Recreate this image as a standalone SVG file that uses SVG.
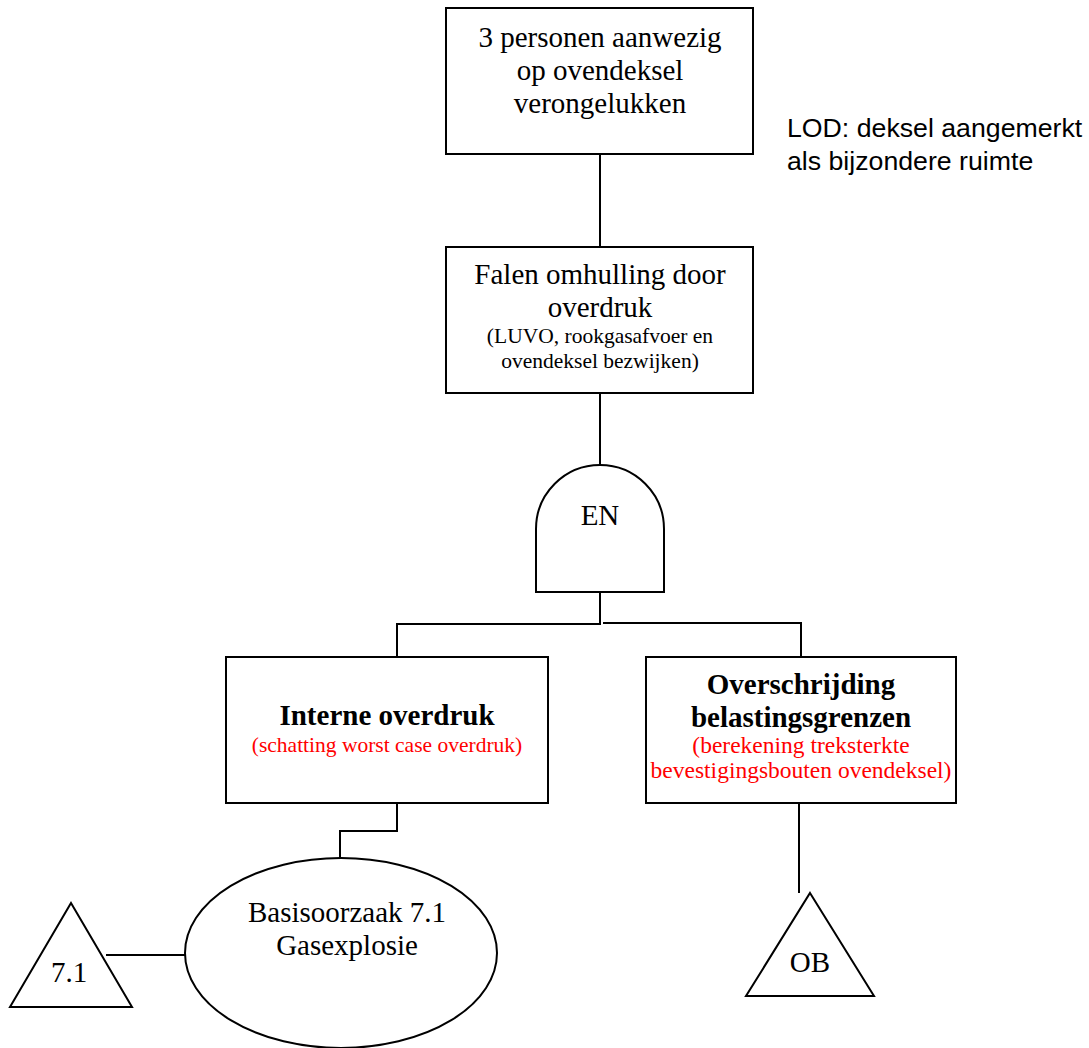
<svg xmlns="http://www.w3.org/2000/svg" width="1089" height="1048" viewBox="0 0 1089 1048">
  <style>
    .shape { fill: #ffffff; stroke: #000000; stroke-width: 2; }
    .wire { fill: none; stroke: #000000; stroke-width: 2; }
    .t { font-family: "Liberation Serif", "Times New Roman", serif; fill: #000000; text-anchor: middle; }
    .big { font-size: 29px; }
    .bold { font-size: 29px; font-weight: bold; }
    .small { font-size: 21.5px; }
    .mid { font-size: 23.5px; }
    .red { fill: #ff0000; }
    .note { font-family: "Liberation Sans", Arial, sans-serif; font-size: 26.7px; fill: #000000; }
  </style>
  <rect width="1089" height="1048" fill="#ffffff"/>

  <!-- connectors -->
  <g id="connectors">
    <path class="wire" d="M600,154 V247"/>
    <path class="wire" d="M600,393 V465"/>
    <path class="wire" d="M600,592 V624 H397 V657"/>
    <path class="wire" d="M603,623 H801 V657"/>
    <path class="wire" d="M397,803 V831 H340 V858"/>
    <path class="wire" d="M799,803 V893"/>
    <path class="wire" d="M106,955 H185"/>
  </g>

  <!-- top event -->
  <g id="top-event">
    <rect class="shape" x="446" y="8" width="307" height="146"/>
    <text class="t big" x="600" y="47">3 personen aanwezig</text>
    <text class="t big" x="600" y="80">op ovendeksel</text>
    <text class="t big" x="600" y="113">verongelukken</text>
  </g>

  <!-- side note -->
  <g id="lod-note">
    <text class="note" x="787" y="137">LOD: deksel aangemerkt</text>
    <text class="note" x="787" y="170">als bijzondere ruimte</text>
  </g>

  <!-- intermediate event -->
  <g id="falen-omhulling">
    <rect class="shape" x="446" y="247" width="307" height="146"/>
    <text class="t big" x="600" y="284">Falen omhulling door</text>
    <text class="t big" x="600" y="317">overdruk</text>
    <text class="t small" x="600" y="343">(LUVO, rookgasafvoer en</text>
    <text class="t small" x="600" y="368">ovendeksel bezwijken)</text>
  </g>

  <!-- AND gate -->
  <g id="gate-en">
    <path class="shape" d="M536,592 V529 A64,64 0 0 1 664,529 V592 Z"/>
    <text class="t big" x="600" y="525">EN</text>
  </g>

  <!-- left branch -->
  <g id="interne-overdruk">
    <rect class="shape" x="226" y="657" width="322" height="146"/>
    <text class="t bold" x="387" y="725">Interne overdruk</text>
    <text class="t small red" x="387" y="752">(schatting worst case overdruk)</text>
  </g>

  <!-- right branch -->
  <g id="overschrijding">
    <rect class="shape" x="646" y="657" width="310" height="146"/>
    <text class="t bold" x="801" y="694">Overschrijding</text>
    <text class="t bold" x="801" y="727">belastingsgrenzen</text>
    <text class="t mid red" x="801" y="753">(berekening treksterkte</text>
    <text class="t mid red" x="801" y="778">bevestigingsbouten ovendeksel)</text>
  </g>

  <!-- basic cause -->
  <g id="basisoorzaak">
    <ellipse class="shape" cx="341" cy="953" rx="156" ry="95"/>
    <text class="t big" x="347" y="922">Basisoorzaak 7.1</text>
    <text class="t big" x="347" y="955">Gasexplosie</text>
  </g>

  <!-- transfer 7.1 -->
  <g id="transfer-71">
    <polygon class="shape" points="71,903 132,1007 10,1007"/>
    <text class="t big" x="69" y="982">7.1</text>
  </g>

  <!-- transfer OB -->
  <g id="transfer-ob">
    <polygon class="shape" points="810,893 874,996 746,996"/>
    <text class="t big" x="810" y="972">OB</text>
  </g>
</svg>
